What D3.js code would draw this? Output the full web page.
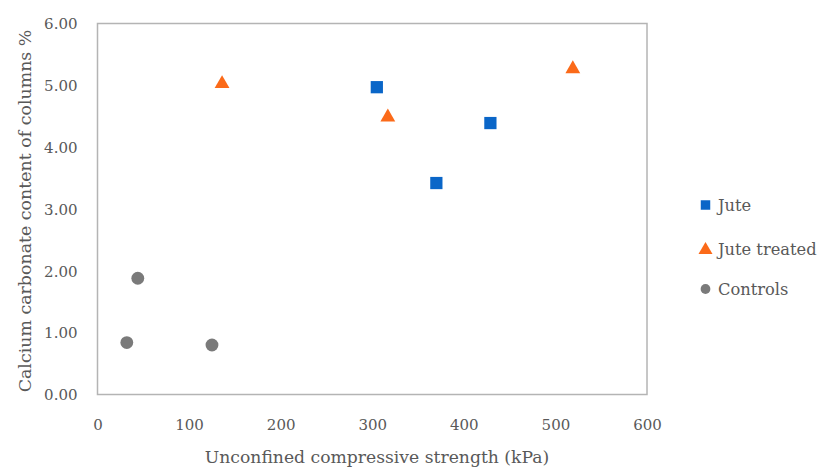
<!DOCTYPE html>
<html>
<head>
<meta charset="utf-8">
<script src="https://cdn.jsdelivr.net/npm/d3@7"></script>
<style>
  html, body { margin: 0; padding: 0; background: #fff; }
  svg { display: block; }
  text { font-family: "DejaVu Serif", serif; fill: #595959; }
</style>
</head>
<body>
<svg id="chart" width="823" height="471"></svg>
<script>
// ---- data ----
const seriesNames = ["Jute", "Jute treated", "Controls"];
const juteX = [305, 370, 429];
const juteY = [4.97, 3.42, 4.39];
const juteTreatedX = [136, 317, 519];
const juteTreatedY = [5.05, 4.51, 5.29];
const controlsX = [32, 44, 125];
const controlsY = [0.84, 1.88, 0.80];
const xTicks = [0, 100, 200, 300, 400, 500, 600];
const yTicks = [0, 1, 2, 3, 4, 5, 6];
const xTitle = "Unconfined compressive strength (kPa)";
const yTitle = "Calcium carbonate content of columns %";

// ---- layout ----
const svg = d3.select("#chart");
const plot = { left: 97.5, right: 647, top: 23.5, bottom: 394.5 };
const x = d3.scaleLinear().domain([0, 600]).range([plot.left, plot.right]);
const y = d3.scaleLinear().domain([0, 6]).range([plot.bottom, plot.top]);

const colors = { "Jute": "#0a66c8", "Jute treated": "#fb6a19", "Controls": "#7a7a7a" };
const symbols = { "Jute": d3.symbolSquare, "Jute treated": d3.symbolTriangle, "Controls": d3.symbolCircle };
const sizes = { "Jute": 150, "Jute treated": 95, "Controls": 130 };
const legendSizes = { "Jute": 90, "Jute treated": 85, "Controls": 75 };

// frame
svg.append("rect")
  .attr("x", plot.left).attr("y", plot.top)
  .attr("width", plot.right - plot.left).attr("height", plot.bottom - plot.top)
  .attr("fill", "none").attr("stroke", "#b4b4b4").attr("stroke-width", 1.5);

// x axis
const xAxis = d3.axisBottom(x).tickValues(xTicks).tickSize(0).tickPadding(0).tickFormat(d3.format("d"));
const gx = svg.append("g").attr("transform", `translate(0,${plot.bottom})`).call(xAxis);
gx.select(".domain").remove();
gx.selectAll("text").attr("y", 35.5).attr("dy", 0)
  .style("font-family", '"DejaVu Serif", serif').style("font-size", "15px").attr("fill", "#595959");

// y axis
const yAxis = d3.axisLeft(y).tickValues(yTicks).tickSize(0).tickPadding(0).tickFormat(d3.format(".2f"));
const gy = svg.append("g").attr("transform", `translate(${plot.left},0)`).call(yAxis);
gy.select(".domain").remove();
gy.selectAll("text").attr("x", -20).attr("dy", "0.35em")
  .style("font-family", '"DejaVu Serif", serif').style("font-size", "15px").attr("fill", "#595959");

// titles
svg.append("text").attr("x", 377).attr("y", 463).attr("text-anchor", "middle")
  .style("font-size", "17.2px").text(xTitle);
svg.append("text").attr("transform", `translate(31,${211}) rotate(-90)`).attr("text-anchor", "middle")
  .style("font-size", "17.4px").text(yTitle);

// points
const series = [
  { name: "Jute", xs: juteX, ys: juteY },
  { name: "Jute treated", xs: juteTreatedX, ys: juteTreatedY },
  { name: "Controls", xs: controlsX, ys: controlsY }
];
series.forEach(s => {
  const pts = s.xs.map((v, i) => [v, s.ys[i]]);
  const yOff = s.name === "Jute treated" ? 1.5 : 0;
  svg.append("g").selectAll("path").data(pts).join("path")
    .attr("transform", d => `translate(${x(d[0])},${y(d[1]) + yOff})`)
    .attr("d", d3.symbol().type(symbols[s.name]).size(sizes[s.name]))
    .attr("fill", colors[s.name]);
});

// legend
const legendY = [205, 249, 289];
const lg = svg.append("g");
seriesNames.forEach((n, i) => {
  lg.append("path")
    .attr("transform", `translate(705.5,${legendY[i] + (n === "Jute treated" ? 1 : 0)})`)
    .attr("d", d3.symbol().type(symbols[n]).size(legendSizes[n]))
    .attr("fill", colors[n]);
  lg.append("text").attr("x", 718).attr("y", legendY[i]).attr("dy", "0.35em")
    .style("font-size", "16.3px").text(n);
});
</script>
</body>
</html>
